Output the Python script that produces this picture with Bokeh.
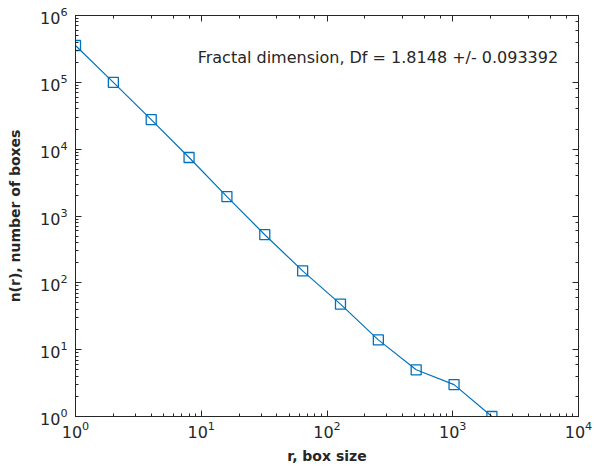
from bokeh.plotting import figure
from bokeh.models import LogAxis, Label, LogTicker, CustomJSTickFormatter
from bokeh.embed import file_html
from bokeh.resources import INLINE

r_size = [1, 2, 4, 8, 16, 32, 64, 128, 256, 512, 1024, 2048]
n_boxes = [356000, 100000, 27700, 7500, 1950, 525, 151, 48, 14, 5, 3, 1]
annotation = "Fractal dimension, Df = 1.8148 +/- 0.093392"
note_x, note_y = 254, 2.35e5

FONT = "DejaVu Sans"
AX = "#262626"
BLUE = "#0072BD"

p = figure(width=594, height=467, x_axis_type="log", y_axis_type="log",
           x_range=(1, 1e4), y_range=(1, 1e6),
           output_backend="svg", toolbar_location=None,
           min_border_left=75, min_border_right=16, min_border_top=15, min_border_bottom=51)
p.grid.visible = False
p.outline_line_color = AX
p.background_fill_color = "white"
p.border_fill_color = "white"

p.line(r_size, n_boxes, line_color=BLUE, line_width=1.2)
p.scatter(r_size, n_boxes, marker="square", size=10, fill_color=None,
          line_color=BLUE, line_width=1.3)

def style(ax, labels=True):
    ax.axis_line_color = AX
    ax.major_tick_line_color = AX
    ax.minor_tick_line_color = AX
    ax.major_tick_in = 6
    ax.major_tick_out = 0
    ax.minor_tick_in = 3
    ax.minor_tick_out = 0
    ax.major_label_text_font = FONT
    ax.major_label_text_font_size = "16px"
    ax.major_label_text_color = AX
    ax.axis_label_text_font = FONT
    ax.axis_label_text_font_size = "14px"
    ax.axis_label_text_font_style = "bold"
    ax.axis_label_text_color = AX
    if not labels:
        ax.formatter = CustomJSTickFormatter(code="return '';")
        ax.major_label_standoff = 0

style(p.xaxis[0])
style(p.yaxis[0])
p.xaxis[0].axis_label = "r, box size"
p.yaxis[0].axis_label = "n(r), number of boxes"
p.xaxis[0].major_label_standoff = 4
p.yaxis[0].major_label_standoff = 8
p.xaxis[0].axis_label_standoff = 7
p.yaxis[0].axis_label_standoff = 14

top = LogAxis(ticker=LogTicker())
style(top, labels=False)
p.add_layout(top, "above")
right = LogAxis(ticker=LogTicker())
style(right, labels=False)
p.add_layout(right, "right")

p.add_layout(Label(x=note_x, y=note_y,
                   text=annotation, text_font=FONT, text_font_size="16px",
                   text_color=AX, text_align="center", text_baseline="middle"))

open("out.html", "w").write(file_html(p, INLINE))
